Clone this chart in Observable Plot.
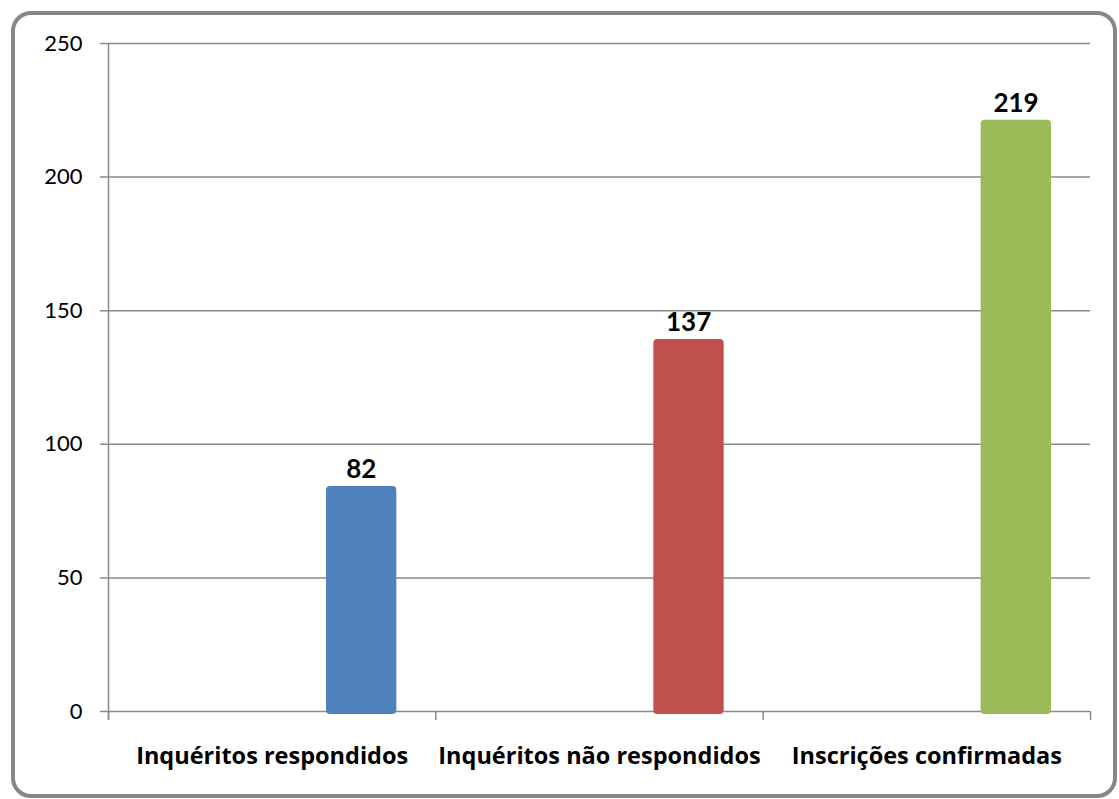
<!DOCTYPE html>
<html>
<head>
<meta charset="utf-8">
<script src="https://cdn.jsdelivr.net/npm/d3@7"></script>
<script src="https://cdn.jsdelivr.net/npm/@observablehq/plot@0.6"></script>
<style>
  html, body { margin: 0; padding: 0; background: #fff; }
  #wrap { position: relative; width: 1119px; height: 799px; overflow: hidden; }
  #border { position: absolute; left: 11px; top: 11px; width: 1106px; height: 787px; box-sizing: border-box;
            border: 4px solid #878787; border-radius: 20px; pointer-events: none; }
  #chart svg { display: block; }
</style>
</head>
<body>
<div id="wrap">
  <div id="chart"></div>
  <div id="border"></div>
</div>
<script>
const categories = ["Inquéritos respondidos", "Inquéritos não respondidos", "Inscrições confirmadas"];
const values = [82, 137, 219];
const barColors = ["#4F81BD", "#C0504D", "#9BBB59"];
const yTicks = [0, 50, 100, 150, 200, 250];
const xBoundaries = [0, 1, 2, 3];

const data = categories.map((c, i) => ({ category: c, index: i, value: values[i], color: barColors[i] }));

const gray = "#8a8a8a";

const chart = Plot.plot({
  width: 1119,
  height: 799,
  marginLeft: 108,
  marginRight: 29,
  marginTop: 43,
  marginBottom: 88,
  x: { type: "linear", domain: [0, 3], axis: null },
  y: { domain: [0, 250], axis: null },
  color: { type: "identity" },
  style: { fontFamily: "Lato, 'Open Sans', sans-serif", background: "transparent", overflow: "visible" },
  marks: [
    Plot.ruleY(yTicks, { stroke: gray, strokeWidth: 1.5, insetLeft: -8 }),
    Plot.ruleX([0], { stroke: gray, strokeWidth: 1.5, insetBottom: -9 }),
    Plot.ruleX(xBoundaries, { y1: 0, y2: 0, stroke: gray, strokeWidth: 1.5, insetBottom: -9 }),
    Plot.axisY(yTicks, { tickSize: 0, tickPadding: 26, fontSize: 22, fill: "#000", anchor: "left", label: null }),
    Plot.rectY(data, {
      x1: "index", x2: d => d.index + 1, y: "value", fill: "color",
      insetLeft: 218, insetRight: 39, insetTop: -6, insetBottom: -3, rx: 4
    }),
    Plot.text(data, {
      x: d => d.index + 1, y: "value", text: d => String(d.value),
      dx: -74.5, dy: -14, lineAnchor: "bottom", fontWeight: "bold", fontSize: 26, fill: "#000"
    }),
    Plot.text(data, {
      x: d => d.index + 0.5, y: () => 0, text: "category",
      dy: 45, fontWeight: "bold", fontSize: 23.5, fill: "#000", fontFamily: "'Open Sans', sans-serif"
    })
  ]
});

document.getElementById("chart").appendChild(chart);
</script>
</body>
</html>
